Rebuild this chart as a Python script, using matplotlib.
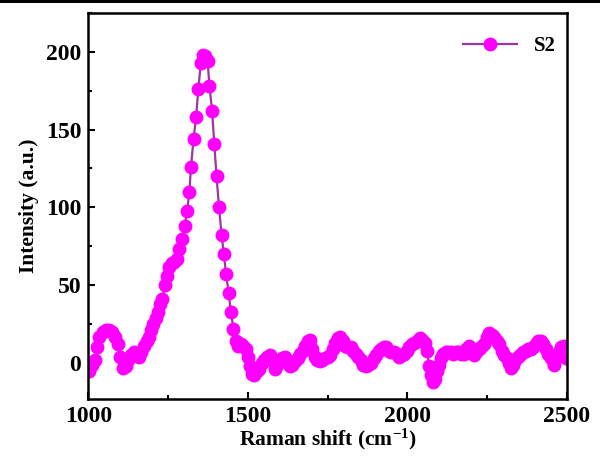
import numpy as np
import matplotlib
matplotlib.use('Agg')
from matplotlib import pyplot as plt
from matplotlib.patches import Rectangle
from matplotlib.ticker import MultipleLocator

# Raman spectrum of sample S2
shift = [1003, 1012, 1022, 1028, 1035, 1045, 1055, 1065, 1075, 1085, 1092, 1100,
         1110, 1118, 1126, 1134, 1142, 1150, 1158, 1166, 1175, 1183, 1190, 1197,
         1204, 1211, 1218, 1225, 1232, 1240, 1247, 1254, 1262, 1270, 1278, 1286,
         1294, 1302, 1310, 1317, 1322, 1330, 1338, 1345, 1353, 1360, 1366, 1374,
         1380, 1388, 1395, 1402, 1410, 1418, 1425, 1432, 1440, 1447, 1455, 1462,
         1470, 1478, 1486, 1494, 1500, 1506, 1513, 1520, 1528, 1536, 1544, 1552,
         1560, 1568, 1576, 1584, 1592, 1600, 1608, 1616, 1624, 1632, 1640, 1648,
         1656, 1664, 1672, 1680, 1688, 1695, 1702, 1710, 1718, 1726, 1734, 1742,
         1750, 1758, 1766, 1774, 1782, 1790, 1798, 1806, 1814, 1822, 1830, 1838,
         1846, 1854, 1862, 1870, 1878, 1886, 1894, 1902, 1910, 1918, 1926, 1934,
         1942, 1950, 1958, 1966, 1974, 1982, 1990, 1998, 2006, 2014, 2022, 2030,
         2038, 2046, 2054, 2062, 2068, 2074, 2080, 2087, 2094, 2100, 2106, 2113,
         2120, 2128, 2136, 2144, 2152, 2160, 2168, 2176, 2184, 2192, 2200, 2208,
         2216, 2224, 2232, 2240, 2248, 2256, 2264, 2272, 2280, 2288, 2296, 2304,
         2312, 2318, 2324, 2330, 2338, 2346, 2354, 2362, 2370, 2378, 2386, 2394,
         2402, 2410, 2418, 2426, 2434, 2442, 2450, 2458, 2466, 2474, 2482, 2490,
         2497]
intensity = [-5, -1, 2, 10, 17, 20, 21, 21, 20, 17, 12, 4,
             -3, -2, 2, 5, 7, 5, 4, 7, 11, 14, 17, 21,
             25, 29, 33, 38, 41, 50, 56, 62, 64, 65, 67, 73,
             80, 88, 98, 110, 126, 144, 158, 176, 193, 198, 197, 194,
             178, 162, 141, 120, 100, 82, 70, 57, 45, 33, 22, 14,
             11, 12, 11, 9, 4, -2, -7, -8, -5, -4, 0, 2,
             4, 5, 2, -4, -1, 1, 3, 4, 1, -2, -1, 1,
             3, 6, 8, 11, 14, 15, 9, 4, 2, 1, 2, 3,
             4, 5, 9, 13, 16, 17, 14, 11, 10, 10, 8, 6,
             4, 2, -1, -2, -1, 0, 3, 5, 8, 9, 10, 10,
             8, 7, 7, 6, 4, 5, 6, 8, 10, 12, 13, 14,
             16, 15, 13, 8, -2, -8, -12, -10, -5, -1, 3, 6,
             7, 7, 7, 6, 7, 7, 6, 6, 9, 11, 7, 5,
             7, 9, 10, 12, 17, 19, 18, 17, 14, 12, 8, 5,
             3, 0, -3, -1, 2, 4, 5, 7, 8, 9, 9, 10,
             12, 14, 14, 12, 9, 6, 3, -1, 3, 7, 10, 11,
             3]

plt.rcParams['font.family'] = ['Liberation Serif', 'DejaVu Serif']
plt.rcParams['font.weight'] = 'bold'
plt.rcParams['mathtext.fontset'] = 'custom'
plt.rcParams['mathtext.rm'] = 'Liberation Serif:bold'
plt.rcParams['mathtext.bf'] = 'Liberation Serif:bold'
plt.rcParams['mathtext.default'] = 'bf'

fig = plt.figure(figsize=(6, 4.61), dpi=100)
ax = fig.add_axes([0.147, 0.135, 0.798, 0.837])

ax.plot(shift, intensity, '-o', color='#9838A0', lw=1.6, ms=9,
        mfc='#FF00FF', mec='#FF00FF', label='S2')

ax.set_xlim(1000, 2500)
ax.set_ylim(-23, 225)
ax.xaxis.set_major_locator(MultipleLocator(500))
ax.xaxis.set_minor_locator(MultipleLocator(250))
ax.yaxis.set_major_locator(MultipleLocator(50))
ax.yaxis.set_minor_locator(MultipleLocator(25))
ax.tick_params(which='both', direction='in', width=1.5, labelsize=17)
ax.tick_params(which='major', length=5, pad=5)
ax.tick_params(which='minor', length=3)
for s in ax.spines.values():
    s.set_linewidth(1.8)
for lab in ax.get_xticklabels() + ax.get_yticklabels():
    lab.set_fontweight('bold')

ax.set_xlabel('Raman shift (cm$^{-1}$)', fontsize=15.5, fontweight='bold', labelpad=0)
ax.set_ylabel('Intensity (a.u.)', fontsize=15.5, fontweight='bold', labelpad=5)

leg = ax.legend(loc='upper right', bbox_to_anchor=(0.994, 0.962), frameon=False,
                fontsize=15, handlelength=2.6, borderaxespad=0)
for t in leg.get_texts():
    t.set_fontweight('bold')

# black strip along the top edge of the image
fig.add_artist(Rectangle((0, 0.993), 1, 0.007, transform=fig.transFigure,
                         color='black', lw=0))

plt.savefig('out.png', dpi=100)
